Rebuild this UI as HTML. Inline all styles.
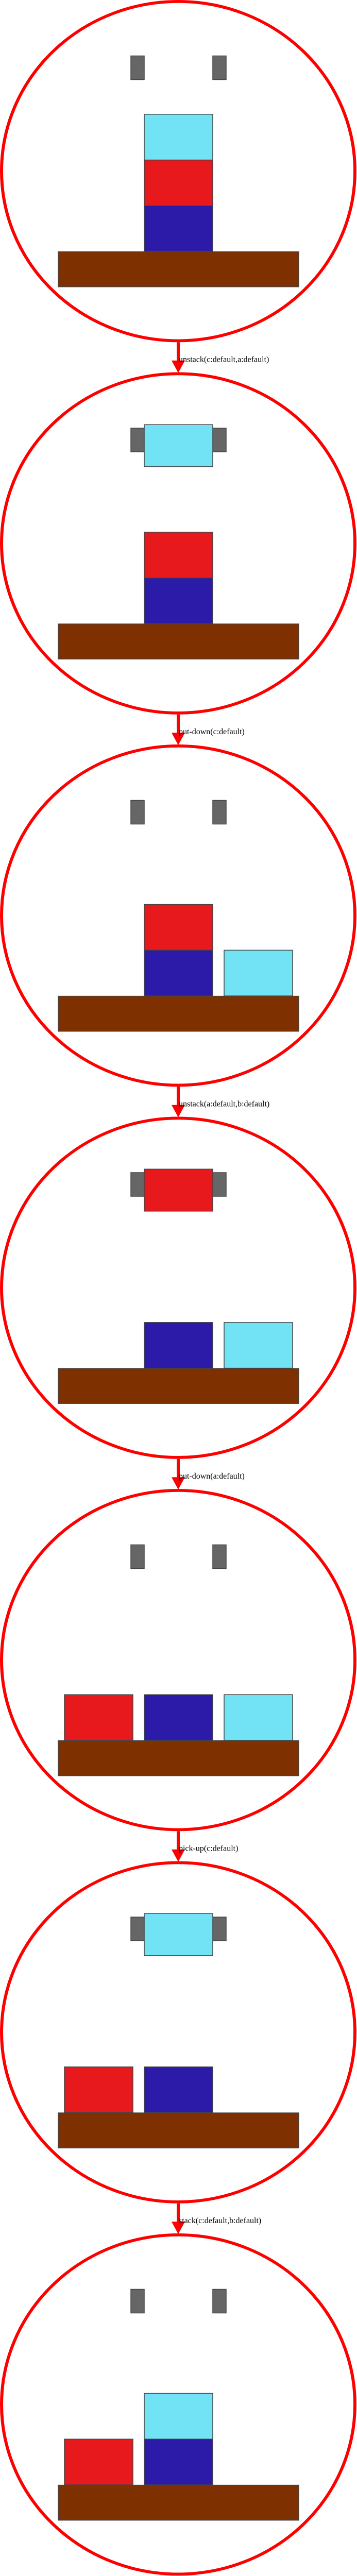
<!DOCTYPE html>
<html><head><meta charset="utf-8"><style>html,body{margin:0;padding:0;background:#fff;width:100%;height:100%;overflow:hidden}svg{display:block;position:fixed;left:0;top:0;width:100vw;height:100vh}</style></head>
<body>
<svg id="s" viewBox="0 0 693 5209" preserveAspectRatio="none" xmlns="http://www.w3.org/2000/svg"></svg>
<script>
const stateLeft = [[],[],[],[],["a"],["a"],["a"]];
const stateMid = [["b","a","c"],["b","a"],["b","a"],["b"],["b"],["b"],["b","c"]];
const stateRight = [[],[],["c"],["c"],["c"],[],[]];
const stateHeld = [null,"c",null,"a",null,"c",null];
const actions = ["unstack(c:default,a:default)","put-down(c:default)","unstack(a:default,b:default)","put-down(a:default)","pick-up(c:default)","stack(c:default,b:default)"];
const colors = {a:"#e8191d",b:"#2b1ba8",c:"#72e2f5"};
const NS="http://www.w3.org/2000/svg", s=document.getElementById('s');
const period=752.7, cx=346, r=343;
const colX=[125,280,435], bw=133, bh=92.5;
function mk(t,a,p){const e=document.createElementNS(NS,t);for(const k in a)e.setAttribute(k,a[k]);(p||s).appendChild(e);return e;}
function block(x,y,w,h,fill,name){const e=mk('rect',{x:x,y:y,width:w,height:h,fill:fill,stroke:'#444','stroke-width':1.5});


return e;}
for(let i=0;i<stateMid.length;i++){
  const cy=346+i*period;
  const g=mk('g',{});
  
  
  const c=mk('circle',{cx:cx,cy:cy,r:r,fill:'none',stroke:'#ff0000','stroke-width':6},g);
  
  
  const gl=block(254,cy-233,26,48,'#666','gripper-left'); g.appendChild(gl);
  const gr=block(413,cy-233,26,48,'#666','gripper-right'); g.appendChild(gr);
  [stateLeft[i],stateMid[i],stateRight[i]].forEach((col,ci)=>{
    col.forEach((b,lv)=>{const e=block(colX[ci],cy+70-(lv)*bh,bw,bh,colors[b],'block-'+b);g.appendChild(e);});
  });
  if(stateHeld[i]){const e=block(280,cy-240,bw,85,colors[stateHeld[i]],'held-block-'+stateHeld[i]);g.appendChild(e);}
  const t=block(113,cy+163,467,71,'#7f3000','table'); g.appendChild(t);
}
for(let i=0;i<actions.length;i++){
  const by=346+i*period+346;
  const l=mk('line',{x1:cx,y1:by,x2:cx,y2:by+40,stroke:'#ff0000','stroke-width':6});
  
  
  const h=mk('polygon',{points:`${cx-13},${by+37} ${cx+13},${by+37} ${cx},${by+62}`,fill:'#ff0000'});
  
  
  const tx=mk('text',{x:347,y:by+40,'font-family':'Liberation Serif, serif','font-size':16,fill:'#000'});
  tx.textContent=actions[i];
  
  
}
</script>
</body></html>
